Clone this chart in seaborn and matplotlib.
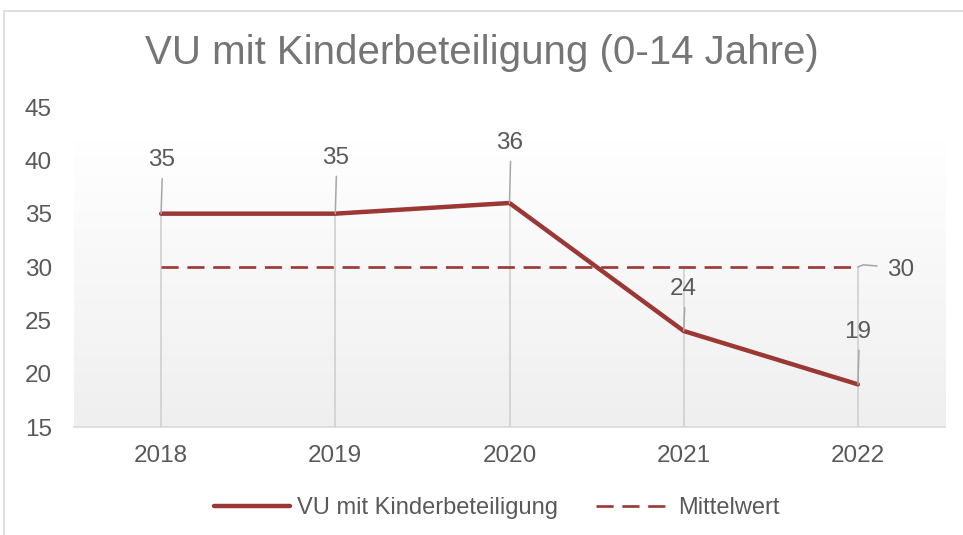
import numpy as np
import pandas as pd
import matplotlib.pyplot as plt
import seaborn as sns
from matplotlib.lines import Line2D
from matplotlib.patches import Rectangle
from matplotlib.colors import LinearSegmentedColormap

# Data
years = ["2018", "2019", "2020", "2021", "2022"]
accidents = [35, 35, 36, 24, 19]
mean_value = [30, 30, 30, 30, 30]

title = "VU mit Kinderbeteiligung (0-14 Jahre)"
series_name = "VU mit Kinderbeteiligung"
mean_name = "Mittelwert"

sns.set_style("white")
plt.rcParams["font.family"] = ["Liberation Sans", "DejaVu Sans"]

red = "#9b3734"
text_grey = "#595959"
dash = (0, (6.5, 3.3))

df = pd.DataFrame({"Jahr": np.arange(len(years)), series_name: accidents, mean_name: mean_value})

fig = plt.figure(figsize=(9.63, 5.35), dpi=100)
ax = fig.add_axes([74 / 963, 1 - 427 / 535, (945 - 74) / 963, (427 - 107) / 535])

# light grey frame around the chart
fig.patches.append(Rectangle((4 / 963, -0.1), 1.2, 1 - 11 / 535 + 0.1, transform=fig.transFigure,
                             fill=False, edgecolor="#d9d9d9", linewidth=1.2, zorder=0))

# gradient background of the plot area (white at top, light grey at bottom)
grad = LinearSegmentedColormap.from_list("bg", ["#ffffff", "#efefef"])
ax.imshow(np.linspace(0, 1, 256).reshape(-1, 1), cmap=grad, aspect="auto", origin="upper",
          extent=(-0.5, 4.5, 15, 42), zorder=0)

# drop lines from the higher series down to the axis
for i in range(len(years)):
    top = max(accidents[i], mean_value[i])
    ax.plot([i, i], [15, top], color="#d0d0d0", linewidth=1.2, zorder=1)

sns.lineplot(data=df, x="Jahr", y=series_name, color=red, linewidth=3.2, ax=ax, zorder=3,
             solid_capstyle="round")
sns.lineplot(data=df, x="Jahr", y=mean_name, color=red, linewidth=1.9, ax=ax, zorder=2,
             dashes=False, linestyle=dash)

# data labels with leader lines
label_offsets = [5.0, 5.2, 5.6, 3.9, 4.9]
for i, v in enumerate(accidents):
    dy = label_offsets[i]
    ax.plot([i, i + 0.006], [v, v + dy - 1.7], color="#a6a6a6", linewidth=1.1, zorder=4)
    ax.text(i, v + dy, str(v), ha="center", va="center", fontsize=17.5, color=text_grey, zorder=5)

ax.plot([4, 4.03, 4.11], [30, 30.2, 30.1], color="#a6a6a6", linewidth=1.1, zorder=4)
ax.text(4.165, 29.75, str(mean_value[-1]), ha="left", va="center", fontsize=17.5, color=text_grey)

ax.set_xlim(-0.5, 4.5)
ax.set_ylim(15, 45)
ax.set_xticks(range(len(years)))
ax.set_xticklabels(years)
ax.set_yticks(range(15, 46, 5))
ax.set_xlabel("")
ax.set_ylabel("")
ax.tick_params(axis="both", length=0, labelsize=17.5, labelcolor=text_grey)
ax.tick_params(axis="y", pad=16)
ax.tick_params(axis="x", pad=13)
for s in ["left", "right", "top"]:
    ax.spines[s].set_visible(False)
ax.spines["bottom"].set_color("#d9d9d9")
ax.spines["bottom"].set_linewidth(1.2)

fig.text(0.5, 1 - 53 / 535, title, ha="center", va="center", fontsize=29, color="#757575")

handles = [Line2D([], [], color=red, linewidth=3.2, solid_capstyle="round"),
           Line2D([], [], color=red, linewidth=1.9, linestyle=dash)]
if ax.get_legend():
    ax.get_legend().remove()
fig.legend(handles, [series_name, mean_name], loc="center", bbox_to_anchor=(0.516, 1 - 508 / 535),
           ncol=2, frameon=False, fontsize=17, labelcolor=text_grey, handlelength=3.2,
           handletextpad=0.3, columnspacing=1.6)

fig.savefig("out.png", dpi=100)
